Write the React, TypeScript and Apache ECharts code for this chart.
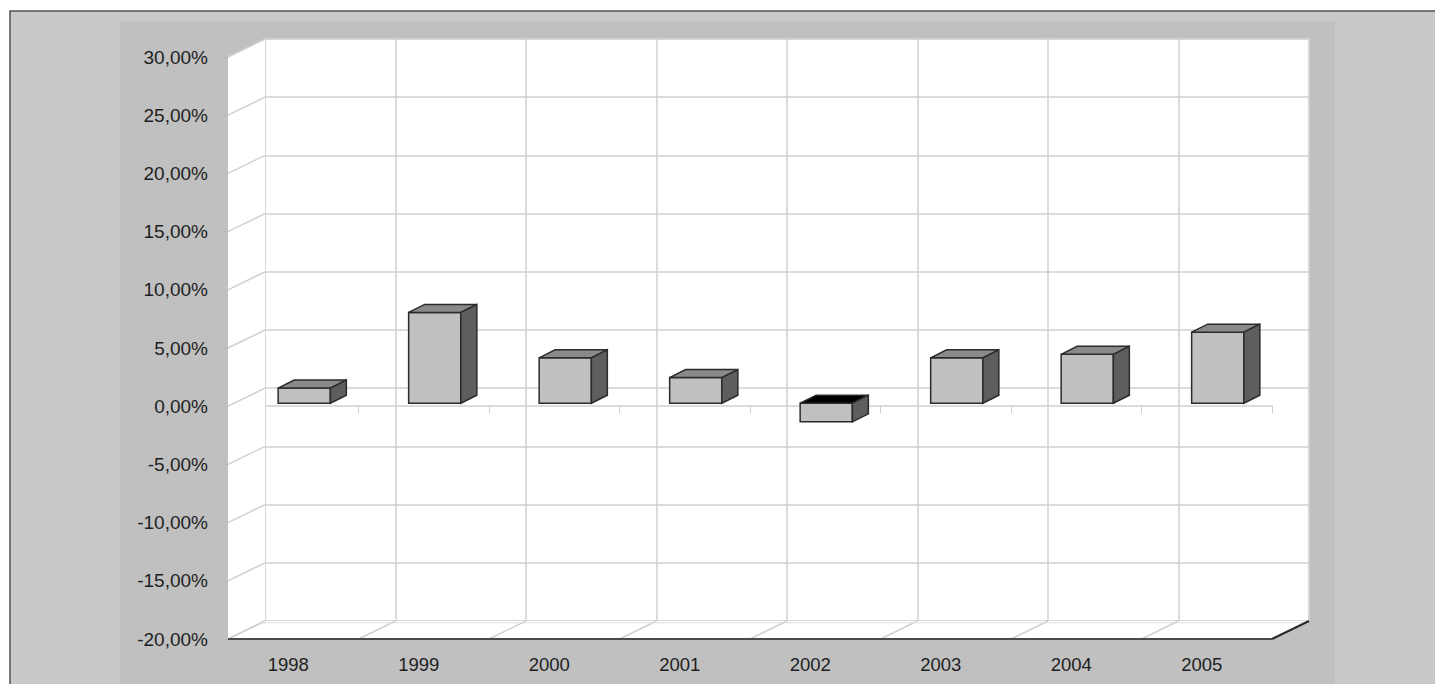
import React, { useEffect, useRef } from "react";
import * as echarts from "echarts";

// ---- data ----
const years = ["1998", "1999", "2000", "2001", "2002", "2003", "2004", "2005"];
const growth = [1.3, 7.8, 3.9, 2.2, -1.6, 3.9, 4.2, 6.1];
const yTicks = [-20, -15, -10, -5, 0, 5, 10, 15, 20, 25, 30];
const yMin = -20;
const yMax = 30;
const yStep = 5;

// ---- layout / style ----
const W = 1435;
const H = 684;
const FRONT = { left: 228, top: 57, width: 1044, height: 582 };
const DEPTH = { dx: 37, dy: -18 };
const BACK = {
  left: FRONT.left + DEPTH.dx,
  top: FRONT.top + DEPTH.dy,
  width: FRONT.width,
  height: FRONT.height,
};
const BAR = { shiftX: 11, shiftY: -3, dx: 16, dy: -8, widthRatio: 0.4 };
const GRID_COLOR = "#d0d0d0";
const FONT = "Liberation Sans, Arial, sans-serif";

const fmt = (v: number) => v.toFixed(2).replace(".", ",") + "%";

export default function App() {
  const ref = useRef<HTMLDivElement>(null);

  useEffect(() => {
    if (!ref.current) return;
    const chart = echarts.init(ref.current, undefined, { renderer: "svg" });

    const wallsRender = (params: any, api: any) => {
      const cs = params.coordSys;
      const L = cs.x;
      const T = cs.y;
      const R = cs.x + cs.width;
      const B = cs.y + cs.height;
      const band = api.size([1, 0])[0];
      const { dx, dy } = DEPTH;
      const children: any[] = [];
      children.push({
        type: "polygon",
        shape: { points: [[L, T], [L + dx, T + dy], [L + dx, B + dy], [L, B]] },
        style: { fill: "#ffffff", stroke: null },
      });
      children.push({
        type: "polygon",
        shape: { points: [[L, B], [L + dx, B + dy], [R + dx, B + dy], [R, B]] },
        style: { fill: "#ffffff", stroke: null },
      });
      yTicks.forEach((v) => {
        const y = api.coord([0, v])[1];
        children.push({
          type: "line",
          shape: { x1: L, y1: y, x2: L + dx, y2: y + dy },
          style: { stroke: GRID_COLOR, lineWidth: 1.5 },
        });
      });
      for (let i = 0; i <= years.length; i++) {
        const x = L + i * band;
        children.push({
          type: "line",
          shape: { x1: x, y1: B, x2: x + dx, y2: B + dy },
          style: { stroke: GRID_COLOR, lineWidth: 1.5 },
        });
      }
      children.push({
        type: "line",
        shape: { x1: L + dx * 0.9, y1: B + dy * 0.9, x2: R + dx * 0.9, y2: B + dy * 0.9 },
        style: { stroke: "#e0e0e0", lineWidth: 1 },
      });
      children.push({
        type: "line",
        shape: { x1: L, y1: B, x2: R, y2: B },
        style: { stroke: "#4a4a4a", lineWidth: 2 },
      });
      children.push({
        type: "line",
        shape: { x1: R, y1: B, x2: R + dx, y2: B + dy },
        style: { stroke: "#2a2a2a", lineWidth: 2 },
      });
      return { type: "group", children };
    };

    const barRender = (params: any, api: any) => {
      const i = api.value(0);
      const v = api.value(1);
      const p0 = api.coord([i, 0]);
      const p1 = api.coord([i, v]);
      const band = api.size([1, 0])[0];
      const w = band * BAR.widthRatio;
      const x0 = p0[0] + BAR.shiftX - w / 2;
      const x1 = x0 + w;
      const yTop = Math.min(p0[1], p1[1]) + BAR.shiftY;
      const yBot = Math.max(p0[1], p1[1]) + BAR.shiftY;
      const { dx, dy } = BAR;
      const stroke = "#2b2b2b";
      return {
        type: "group",
        children: [
          {
            type: "polygon",
            shape: { points: [[x0, yTop], [x1, yTop], [x1, yBot], [x0, yBot]] },
            style: { fill: "#c0c0c0", stroke, lineWidth: 1.5 },
          },
          {
            type: "polygon",
            shape: { points: [[x0, yTop], [x0 + dx, yTop + dy], [x1 + dx, yTop + dy], [x1, yTop]] },
            style: { fill: v < 0 ? "#000000" : "#8a8a8a", stroke, lineWidth: 1.5 },
          },
          {
            type: "polygon",
            shape: { points: [[x1, yTop], [x1 + dx, yTop + dy], [x1 + dx, yBot + dy], [x1, yBot]] },
            style: { fill: "#5e5e5e", stroke, lineWidth: 1.5 },
          },
        ],
      };
    };

    const option: any = {
      animation: false,
      backgroundColor: "#ffffff",
      textStyle: { fontFamily: FONT },
      graphic: [
        {
          type: "rect",
          z: -20,
          shape: { x: 10, y: 11, width: W, height: H },
          style: { fill: "#c8c9cb", stroke: "#505050", lineWidth: 1.5 },
        },
        {
          type: "rect",
          z: -19,
          shape: { x: 120, y: 21, width: 1215, height: H },
          style: { fill: "#c0c0c0" },
        },
        {
          type: "rect",
          z: -18,
          shape: { x: BACK.left, y: BACK.top, width: BACK.width, height: BACK.height },
          style: { fill: "#ffffff", stroke: "#dadada", lineWidth: 1 },
        },
      ],
      grid: [
        { ...FRONT, containLabel: false },
        { ...BACK, containLabel: false },
      ],
      xAxis: [
        {
          type: "category",
          gridIndex: 0,
          data: years,
          position: "bottom",
          axisLine: { show: false, onZero: false },
          axisTick: { show: true, length: 8, lineStyle: { color: "#c4c4c4" } },
          axisLabel: {
            margin: 16,
            fontSize: 18.5,
            color: "#1e1e1e",
            fontFamily: FONT,
            padding: [0, 10, 0, 0],
          },
          splitLine: { show: false },
        },
        {
          type: "category",
          gridIndex: 0,
          data: years,
          position: "bottom",
          axisLine: { show: true, onZero: true, lineStyle: { color: "#cfcfcf", width: 1.5 } },
          axisTick: { show: true, length: 7, lineStyle: { color: "#cfcfcf" } },
          axisLabel: { show: false },
          splitLine: { show: false },
        },
        {
          type: "category",
          gridIndex: 1,
          data: years,
          axisLine: { show: false },
          axisTick: { show: false },
          axisLabel: { show: false },
          splitLine: { show: true, interval: 0, lineStyle: { color: GRID_COLOR, width: 1.5 } },
        },
      ],
      yAxis: [
        {
          type: "value",
          gridIndex: 0,
          min: yMin,
          max: yMax,
          interval: yStep,
          axisLine: { show: true, lineStyle: { color: "#d6d6d6" } },
          axisTick: { show: true, length: 6, lineStyle: { color: "#b8b8b8" } },
          axisLabel: {
            margin: 20,
            fontSize: 19,
            color: "#1e1e1e",
            fontFamily: FONT,
            formatter: (v: number) => fmt(v),
          },
          splitLine: { show: false },
        },
        {
          type: "value",
          gridIndex: 1,
          min: yMin,
          max: yMax,
          interval: yStep,
          axisLine: { show: false },
          axisTick: { show: false },
          axisLabel: { show: false },
          splitLine: { show: true, lineStyle: { color: GRID_COLOR, width: 1.5 } },
        },
      ],
      series: [
        {
          type: "custom",
          name: "walls",
          xAxisIndex: 0,
          yAxisIndex: 0,
          z: 1,
          silent: true,
          renderItem: wallsRender,
          data: [[0, 0]],
        },
        {
          type: "custom",
          name: "Veränderung",
          xAxisIndex: 0,
          yAxisIndex: 0,
          z: 5,
          renderItem: barRender,
          data: growth.map((v, i) => [i, v]),
        },
      ],
    };

    chart.setOption(option);
    return () => chart.dispose();
  }, []);

  return (
    <div
      ref={ref}
      style={{ position: "absolute", left: 0, top: 0, width: W, height: H }}
    />
  );
}
